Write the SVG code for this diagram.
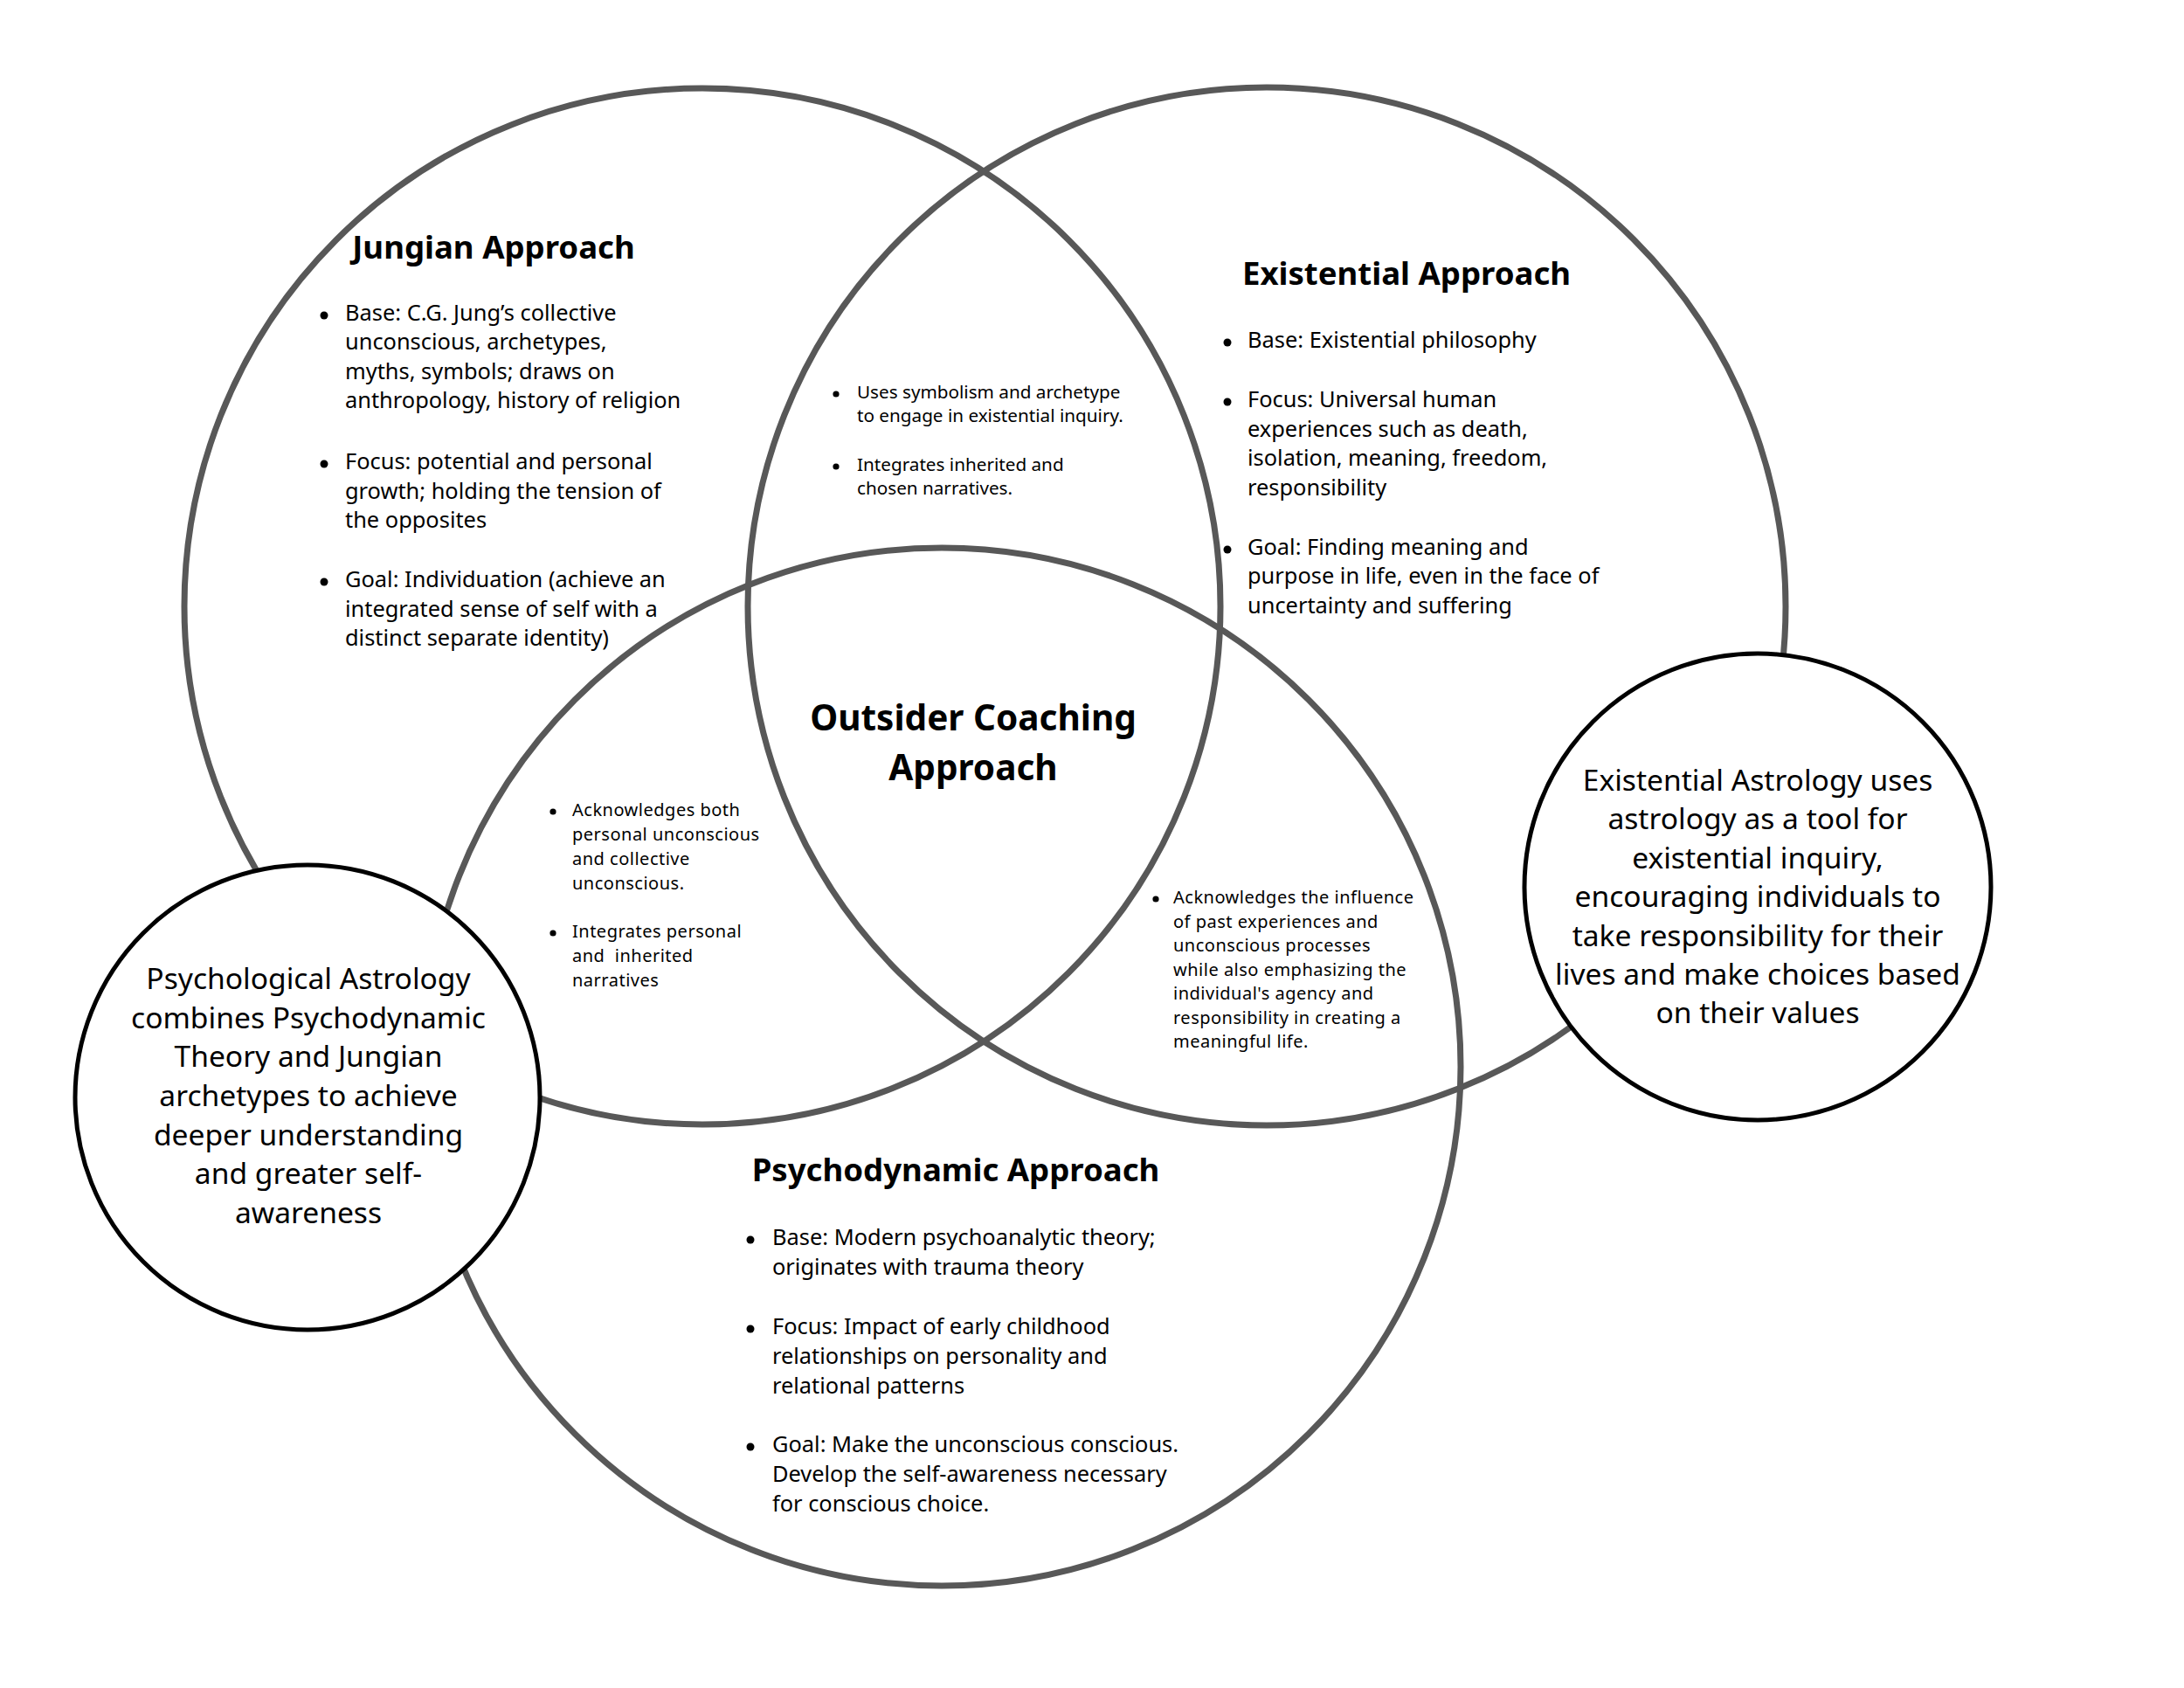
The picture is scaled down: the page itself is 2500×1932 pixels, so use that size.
<svg xmlns="http://www.w3.org/2000/svg" width="2500" height="1932" viewBox="0 0 2500 1932">
<style>
.ring{fill:none;stroke:#585858;stroke-width:7}
.note{fill:#fff;stroke:#000;stroke-width:5}
.dot{fill:#000}
text{font-family:"Noto Sans","Open Sans",sans-serif;fill:#000}
.h{font-weight:700;font-size:36.6px;text-anchor:middle}
.hc{font-weight:700;font-size:40.5px;text-anchor:middle}
.b{font-size:25.4px}
.s{font-size:20.7px}
.s2{font-size:20px;letter-spacing:0.5px}
.c{font-size:33.6px;text-anchor:middle}
</style>
<rect width="2500" height="1932" fill="#fff"/>

<g id="jungian">
<circle class="ring" cx="804" cy="694" r="593"/>
<text class="h" x="565" y="296">Jungian Approach</text>
<circle class="dot" cx="371" cy="361" r="4.5"/>
<text class="b" x="395" y="367">Base: C.G. Jung’s collective</text>
<text class="b" x="395" y="400">unconscious, archetypes,</text>
<text class="b" x="395" y="434">myths, symbols; draws on</text>
<text class="b" x="395" y="467">anthropology, history of religion</text>
<circle class="dot" cx="371" cy="531" r="4.5"/>
<text class="b" x="395" y="537">Focus: potential and personal</text>
<text class="b" x="395" y="571">growth; holding the tension of</text>
<text class="b" x="395" y="604">the opposites</text>
<circle class="dot" cx="371" cy="666" r="4.5"/>
<text class="b" x="395" y="672">Goal: Individuation (achieve an</text>
<text class="b" x="395" y="706">integrated sense of self with a</text>
<text class="b" x="395" y="739">distinct separate identity)</text>
</g>

<g id="existential">
<circle class="ring" cx="1450" cy="694" r="594"/>
<text class="h" x="1610" y="326">Existential Approach</text>
<circle class="dot" cx="1405" cy="392" r="4.5"/>
<text class="b" x="1428" y="398">Base: Existential philosophy</text>
<circle class="dot" cx="1405" cy="460" r="4.5"/>
<text class="b" x="1428" y="466">Focus: Universal human</text>
<text class="b" x="1428" y="500">experiences such as death,</text>
<text class="b" x="1428" y="533">isolation, meaning, freedom,</text>
<text class="b" x="1428" y="567">responsibility</text>
<circle class="dot" cx="1405" cy="629" r="4.5"/>
<text class="b" x="1428" y="635">Goal: Finding meaning and</text>
<text class="b" x="1428" y="668">purpose in life, even in the face of</text>
<text class="b" x="1428" y="702">uncertainty and suffering</text>
</g>

<g id="psychodynamic">
<circle class="ring" cx="1078" cy="1221" r="594"/>
<text class="h" x="1094" y="1352">Psychodynamic Approach</text>
<circle class="dot" cx="859" cy="1419" r="4.5"/>
<text class="b" x="884" y="1425">Base: Modern psychoanalytic theory;</text>
<text class="b" x="884" y="1459">originates with trauma theory</text>
<circle class="dot" cx="859" cy="1521" r="4.5"/>
<text class="b" x="884" y="1527">Focus: Impact of early childhood</text>
<text class="b" x="884" y="1561">relationships on personality and</text>
<text class="b" x="884" y="1595">relational patterns</text>
<circle class="dot" cx="859" cy="1656" r="4.5"/>
<text class="b" x="884" y="1662">Goal: Make the unconscious conscious.</text>
<text class="b" x="884" y="1696">Develop the self-awareness necessary</text>
<text class="b" x="884" y="1730">for conscious choice.</text>
</g>

<g id="jungian-existential">
<circle class="dot" cx="957" cy="451" r="3.6"/>
<text class="s" x="981" y="456">Uses symbolism and archetype</text>
<text class="s" x="981" y="483">to engage in existential inquiry.</text>
<circle class="dot" cx="957" cy="534" r="3.6"/>
<text class="s" x="981" y="539">Integrates inherited and</text>
<text class="s" x="981" y="566">chosen narratives.</text>
</g>

<g id="outsider-coaching">
<text class="hc" x="1114" y="836">Outsider Coaching</text>
<text class="hc" x="1114" y="893">Approach</text>
</g>

<g id="jungian-psychodynamic">
<circle class="dot" cx="633" cy="929" r="3.6"/>
<text class="s2" x="655" y="934">Acknowledges both</text>
<text class="s2" x="655" y="962">personal unconscious</text>
<text class="s2" x="655" y="990">and collective</text>
<text class="s2" x="655" y="1018">unconscious.</text>
<circle class="dot" cx="633" cy="1068" r="3.6"/>
<text class="s2" x="655" y="1073">Integrates personal</text>
<text class="s2" x="655" y="1101" style="white-space:pre">and  inherited</text>
<text class="s2" x="655" y="1129">narratives</text>
</g>

<g id="existential-psychodynamic">
<circle class="dot" cx="1323" cy="1029" r="3.6"/>
<text class="s2" x="1343" y="1034">Acknowledges the influence</text>
<text class="s2" x="1343" y="1062">of past experiences and</text>
<text class="s2" x="1343" y="1089">unconscious processes</text>
<text class="s2" x="1343" y="1117">while also emphasizing the</text>
<text class="s2" x="1343" y="1144">individual's agency and</text>
<text class="s2" x="1343" y="1172">responsibility in creating a</text>
<text class="s2" x="1343" y="1199">meaningful life.</text>
</g>

<g id="psychological-astrology">
<circle class="note" cx="352" cy="1256" r="266"/>
<text class="c" x="353" y="1132">Psychological Astrology</text>
<text class="c" x="353" y="1177">combines Psychodynamic</text>
<text class="c" x="353" y="1221">Theory and Jungian</text>
<text class="c" x="353" y="1266">archetypes to achieve</text>
<text class="c" x="353" y="1311">deeper understanding</text>
<text class="c" x="353" y="1355">and greater self-</text>
<text class="c" x="353" y="1400">awareness</text>
</g>

<g id="existential-astrology">
<circle class="note" cx="2012" cy="1015" r="267"/>
<text class="c" x="2012" y="905">Existential Astrology uses</text>
<text class="c" x="2012" y="949">astrology as a tool for</text>
<text class="c" x="2012" y="994">existential inquiry,</text>
<text class="c" x="2012" y="1038">encouraging individuals to</text>
<text class="c" x="2012" y="1083">take responsibility for their</text>
<text class="c" x="2012" y="1127">lives and make choices based</text>
<text class="c" x="2012" y="1171">on their values</text>
</g>
</svg>
